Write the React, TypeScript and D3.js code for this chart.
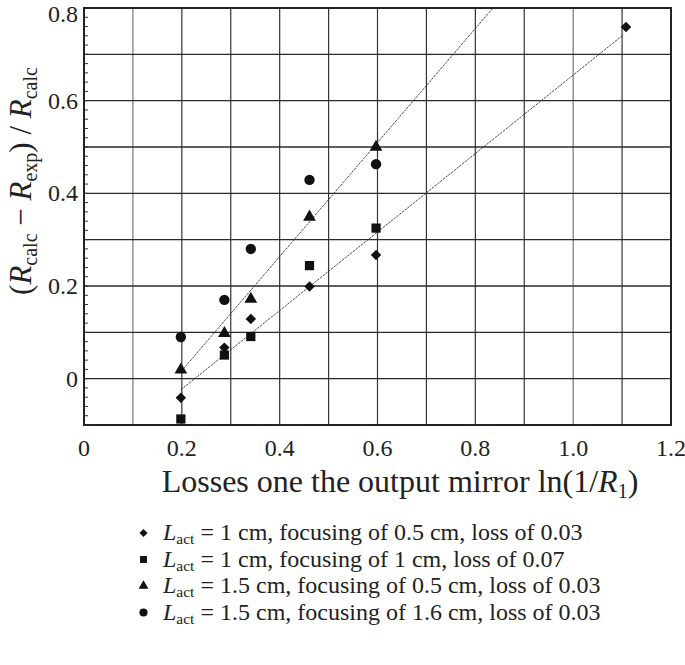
import React from "react";
import * as d3 from "d3";

const W = 685;
const H = 665;

const xTicks = [0, 0.2, 0.4, 0.6, 0.8, 1.0, 1.2];
const xTickLabels = ["0", "0.2", "0.4", "0.6", "0.8", "1.0", "1.2"];
const yTicks = [0, 0.2, 0.4, 0.6, 0.8];
const yTickLabels = ["0", "0.2", "0.4", "0.6", "0.8"];
const xGrid = [0.1, 0.2, 0.3, 0.4, 0.5, 0.6, 0.7, 0.8, 0.9, 1.0, 1.1];
const yGrid = [0, 0.1, 0.2, 0.3, 0.4, 0.5, 0.6, 0.7];

const diamondX = [0.198, 0.287, 0.341, 0.461, 0.597, 1.108];
const diamondY = [-0.041, 0.067, 0.129, 0.199, 0.267, 0.759];
const squareX = [0.198, 0.287, 0.341, 0.461, 0.597];
const squareY = [-0.087, 0.051, 0.091, 0.244, 0.325];
const triangleX = [0.198, 0.287, 0.341, 0.461, 0.597];
const triangleY = [0.019, 0.098, 0.172, 0.349, 0.5];
const circleX = [0.198, 0.287, 0.341, 0.461, 0.597];
const circleY = [0.09, 0.17, 0.28, 0.429, 0.463];

const steepFit: [number, number][] = [
  [0.198, 0.015],
  [0.836, 0.8],
];
const shallowFit: [number, number][] = [
  [0.198, -0.024],
  [1.1025, 0.742],
];

const legendTexts = [
  " = 1 cm, focusing of 0.5 cm, loss of 0.03",
  " = 1 cm, focusing of 1 cm, loss of 0.07",
  " = 1.5 cm, focusing of 0.5 cm, loss of 0.03",
  " = 1.5 cm, focusing of 1.6 cm, loss of 0.03",
];

const FONT = "'Liberation Serif', 'DejaVu Serif', serif";

export default function App() {
  const left = 84,
    right = 671,
    top = 8,
    bottom = 425;
  const x = d3.scaleLinear().domain([0, 1.2]).range([left, right]);
  const y = d3.scaleLinear().domain([-0.1, 0.8]).range([bottom, top]);

  const series = [
    { xs: diamondX, ys: diamondY, type: d3.symbolDiamond2, size: 70 },
    { xs: squareX, ys: squareY, type: d3.symbolSquare, size: 85 },
    { xs: triangleX, ys: triangleY, type: d3.symbolTriangle, size: 70 },
    { xs: circleX, ys: circleY, type: d3.symbolCircle, size: 85 },
  ];
  const legendSymbols = [
    { type: d3.symbolDiamond2, size: 42 },
    { type: d3.symbolSquare, size: 48 },
    { type: d3.symbolTriangle, size: 42 },
    { type: d3.symbolCircle, size: 52 },
  ];

  const line = d3
    .line<[number, number]>()
    .x((d) => x(d[0]))
    .y((d) => y(d[1]));

  const minorTicks = d3.range(-0.1, 0.8001, 0.02);

  return (
    <svg
      width={W}
      height={H}
      style={{ position: "absolute", left: 0, top: 0, background: "#fff" }}
      fontFamily={FONT}
    >
      <rect x={0} y={0} width={W} height={H} fill="#fff" />
      {xGrid.map((g) => (
        <line
          key={"xg" + g}
          x1={x(g)}
          x2={x(g)}
          y1={top}
          y2={bottom}
          stroke={Math.abs(g - 0.1) < 1e-6 || Math.abs(g - 1.0) < 1e-6 ? "#777" : "#333"}
          strokeWidth={1.2}
        />
      ))}
      {yGrid.map((g) => (
        <line
          key={"yg" + g}
          x1={left}
          x2={right}
          y1={y(g)}
          y2={y(g)}
          stroke="#2a2a2a"
          strokeWidth={1.4}
        />
      ))}
      {minorTicks.map((t, i) => (
        <line
          key={"mt" + i}
          x1={left}
          x2={left + 4}
          y1={y(t)}
          y2={y(t)}
          stroke="#333"
          strokeWidth={1}
        />
      ))}
      <rect
        x={left}
        y={top}
        width={right - left}
        height={bottom - top}
        fill="none"
        stroke="#222"
        strokeWidth={2}
      />
      {[steepFit, shallowFit].map((f, i) => (
        <path
          key={"fit" + i}
          d={line(f) || ""}
          fill="none"
          stroke="#333"
          strokeWidth={0.9}
          strokeDasharray="2.5,1"
        />
      ))}
      {series.map((s, si) =>
        s.xs.map((xv, i) => (
          <path
            key={"m" + si + "-" + i}
            d={d3.symbol().type(s.type).size(s.size)() || ""}
            transform={`translate(${x(xv)},${y(s.ys[i])})`}
            fill="#111"
          />
        ))
      )}
      {xTicks.map((t, i) => (
        <text
          key={"xt" + i}
          x={x(t)}
          y={456}
          textAnchor="middle"
          fontSize={24}
          fill="#222"
        >
          {xTickLabels[i]}
        </text>
      ))}
      {yTicks.map((t, i) => (
        <text
          key={"yt" + i}
          x={78}
          y={Math.max(y(t) + 8, 22)}
          textAnchor="end"
          fontSize={24}
          fill="#222"
        >
          {yTickLabels[i]}
        </text>
      ))}
      <text x={400} y={492} textAnchor="middle" fontSize={32} fill="#222">
        Losses one the output mirror ln(1/
        <tspan fontStyle="italic">R</tspan>
        <tspan fontSize={20} dy={6}>
          1
        </tspan>
        <tspan dy={-6}>)</tspan>
      </text>
      <text
        transform={`translate(31,181) rotate(-90)`}
        textAnchor="middle"
        fontSize={31}
        fill="#222"
      >
        (<tspan fontStyle="italic">R</tspan>
        <tspan fontSize={20} dy={6}>
          calc
        </tspan>
        <tspan dy={-6}> − </tspan>
        <tspan fontStyle="italic">R</tspan>
        <tspan fontSize={20} dy={6}>
          exp
        </tspan>
        <tspan dy={-6}>) / </tspan>
        <tspan fontStyle="italic">R</tspan>
        <tspan fontSize={20} dy={6}>
          calc
        </tspan>
      </text>
      {legendTexts.map((t, i) => {
        const by = 540 + i * 26.5;
        return (
          <g key={"lg" + i}>
            <path
              d={d3.symbol().type(legendSymbols[i].type).size(legendSymbols[i].size)() || ""}
              transform={`translate(143.5,${by - 7})`}
              fill="#111"
            />
            <text x={163} y={by} fontSize={24} fill="#222">
              <tspan fontStyle="italic">L</tspan>
              <tspan fontSize={15.5} dy={4}>
                act
              </tspan>
              <tspan dy={-4}>{t}</tspan>
            </text>
          </g>
        );
      })}
    </svg>
  );
}
